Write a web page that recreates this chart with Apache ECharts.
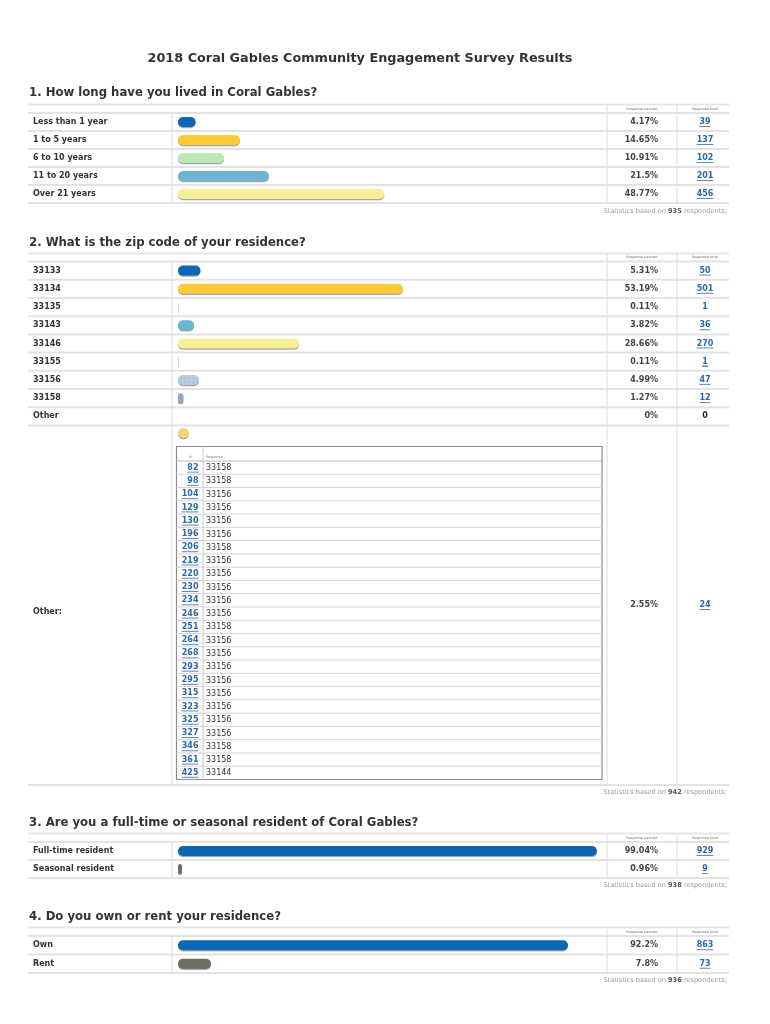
<!DOCTYPE html>
<html><head><meta charset="utf-8">
<script src="https://cdn.jsdelivr.net/npm/echarts@6/dist/echarts.min.js"></script>
<style>html,body{margin:0;padding:0;background:#fff}#c{width:770px;height:1024px}</style>
</head><body><div id="c"></div>
<script>
const FONT = 'DejaVu Sans';

// ---------- data ----------
const pageTitle = '2018 Coral Gables Community Engagement Survey Results';
const colHeaders = ['Response percent', 'Response total'];

const q1Title = '1. How long have you lived in Coral Gables?';
const q1Labels = ['Less than 1 year', '1 to 5 years', '6 to 10 years', '11 to 20 years', 'Over 21 years'];
const q1Percent = [4.17, 14.65, 10.91, 21.5, 48.77];
const q1Total = [39, 137, 102, 201, 456];
const q1Respondents = 935;

const q2Title = '2. What is the zip code of your residence?';
const q2Labels = ['33133', '33134', '33135', '33143', '33146', '33155', '33156', '33158', 'Other'];
const q2Percent = [5.31, 53.19, 0.11, 3.82, 28.66, 0.11, 4.99, 1.27, 0];
const q2Total = [50, 501, 1, 36, 270, 1, 47, 12, 0];
const q2OtherLabel = 'Other:';
const q2OtherPercent = 2.55;
const q2OtherTotal = 24;
const q2OtherIds = [82, 98, 104, 129, 130, 196, 206, 219, 220, 230, 234, 246, 251, 264, 268, 293, 295, 315, 323, 325, 327, 346, 361, 425];
const q2OtherResponses = ['33158', '33158', '33156', '33156', '33156', '33156', '33158', '33156', '33156', '33156', '33156', '33156', '33158', '33156', '33156', '33156', '33156', '33156', '33156', '33156', '33156', '33158', '33158', '33144'];
const q2Respondents = 942;

const q3Title = '3. Are you a full-time or seasonal resident of Coral Gables?';
const q3Labels = ['Full-time resident', 'Seasonal resident'];
const q3Percent = [99.04, 0.96];
const q3Total = [929, 9];
const q3Respondents = 938;

const q4Title = '4. Do you own or rent your residence?';
const q4Labels = ['Own', 'Rent'];
const q4Percent = [92.2, 7.8];
const q4Total = [863, 73];
const q4Respondents = 936;

// ---------- styles / layout ----------
const BLUE = '#0b66b3', YEL = '#ffca38', LGRN = '#bbe9b5', TEAL = '#6cb5d0', PYEL = '#f7f09a';
const LINK = '#2f68a6';
const sections = [
  {title: q1Title, headY: 93, lineY: 104.5, hdrB: 113, rowH: 18, labels: q1Labels, pct: q1Percent, tot: q1Total, resp: q1Respondents, statsY: 211,
   colors: [BLUE, YEL, LGRN, TEAL, PYEL]},
  {title: q2Title, headY: 243, lineY: 253.5, hdrB: 261.5, rowH: 18.22, labels: q2Labels, pct: q2Percent, tot: q2Total, resp: q2Respondents, statsY: 792,
   colors: [BLUE, YEL, '#c9dcc9', TEAL, PYEL, '#e2cf88', '#b9cde0', '#8fa8c9', '#cccccc'], extraBottom: 785},
  {title: q3Title, headY: 823, lineY: 833.5, hdrB: 842, rowH: 18, labels: q3Labels, pct: q3Percent, tot: q3Total, resp: q3Respondents, statsY: 885,
   colors: [BLUE, '#6f6f66']},
  {title: q4Title, headY: 917, lineY: 927.5, hdrB: 936, rowH: 18.5, labels: q4Labels, pct: q4Percent, tot: q4Total, resp: q4Respondents, statsY: 980,
   colors: [BLUE, '#6d6d62']}
];
const GL = 178, GW = 423, TL = 28, TR = 729, SEP1 = 172, SEP2 = 607, SEP3 = 677;
const barStyle = {borderRadius: 5, shadowColor: 'rgba(0,0,0,0.35)', shadowOffsetY: 1.2, shadowBlur: 0.5};

const chart = echarts.init(document.getElementById('c'));
const grids = [], xAxes = [], yAxes = [], series = [];
const lbl = {interval: 0, fontFamily: FONT, fontSize: 8, fontWeight: 'bold', color: '#333'};
sections.forEach((s, i) => {
  grids.push({left: GL, top: s.hdrB, width: GW, height: s.labels.length * s.rowH});
  xAxes.push({type: 'value', gridIndex: i, min: 0, max: 100, show: false});
  const base = {type: 'category', gridIndex: i, inverse: true, axisLine: {show: false}, axisTick: {show: false}, splitLine: {show: false}};
  yAxes.push(Object.assign({}, base, {data: s.labels, axisLabel: Object.assign({}, lbl, {align: 'left', margin: GL - 33})}));
  yAxes.push(Object.assign({}, base, {position: 'right', data: s.pct.map(v => v + '%'), axisLabel: Object.assign({}, lbl, {align: 'right', margin: 658 - (GL + GW), color: '#444'})}));
  yAxes.push(Object.assign({}, base, {position: 'right', data: s.tot.map(String), axisLabel: Object.assign({}, lbl, {align: 'center', margin: 705 - (GL + GW),
    formatter: v => v === '0' ? '{z|0}' : '{a|' + v + '}',
    rich: {a: {color: LINK, fontFamily: FONT, fontSize: 8, fontWeight: 'bold'}, z: {color: '#222', fontFamily: FONT, fontSize: 8, fontWeight: 'bold'}}})}));
  series.push({type: 'bar', xAxisIndex: i, yAxisIndex: i * 3, barWidth: 10, silent: true, itemStyle: barStyle,
    data: s.pct.map((v, j) => {
      const it = {value: v, itemStyle: {color: s.colors[j]}};
      if (i === 1 && j === 6) it.itemStyle.decal = {symbol: 'circle', symbolSize: 0.35, color: 'rgba(150,215,150,0.9)', dashArrayX: [2, 1.5], dashArrayY: [2, 1.5]};
      return it;
    })});
});
// "Other:" dot row of question 2
grids.push({left: GL, top: 428, width: GW, height: 10});
xAxes.push({type: 'value', gridIndex: 4, min: 0, max: 100, show: false});
yAxes.push({type: 'category', gridIndex: 4, data: [q2OtherLabel], show: false});
series.push({type: 'bar', xAxisIndex: 4, yAxisIndex: yAxes.length - 1, barWidth: 10, silent: true,
  itemStyle: Object.assign({}, barStyle, {color: '#f6d57c', decal: {symbol: 'circle', symbolSize: 0.35, color: 'rgba(255,240,190,0.9)', dashArrayX: [2, 1.5], dashArrayY: [2, 1.5]}}),
  data: [q2OtherPercent]});

chart.setOption({animation: false, backgroundColor: '#fff', grid: grids, xAxis: xAxes, yAxis: yAxes, series: series});

// ---------- graphics ----------
const ctx = document.createElement('canvas').getContext('2d');
function tw(t, font) { ctx.font = font; return ctx.measureText(t).width; }
const G = [];
function line(x1, y1, x2, y2, c, w) { G.push({type: 'line', silent: true, shape: {x1, y1, x2, y2}, style: {stroke: c, lineWidth: w || 1}}); }
function text(x, y, t, st) { G.push({type: 'text', silent: true, x, y, style: Object.assign({text: t, fontFamily: FONT, fill: '#333', verticalAlign: 'middle'}, st)}); }
function underline(cx, cy, t, size, align) {
  const w = tw(t, 'bold ' + size + 'px ' + FONT);
  let x0 = align === 'right' ? cx - w : (align === 'left' ? cx : cx - w / 2);
  line(x0, cy + size * 0.56, x0 + w, cy + size * 0.56, LINK, 0.8);
}

text(360, 59, pageTitle, {fontSize: 12.8, fontWeight: 'bold', align: 'center', fill: '#333'});
const ROWLINE = '#e3e3e3';
sections.forEach((s, i) => {
  text(29, s.headY, s.title, {fontSize: 11.7, fontWeight: 'bold', fill: '#333'});
  const bottom = s.extraBottom || (s.hdrB + s.labels.length * s.rowH);
  line(TL, s.lineY, TR, s.lineY, '#e6e6e6', 2);
  const hy = (s.lineY + s.hdrB) / 2;
  text((SEP2 + SEP3) / 2, hy, colHeaders[0], {fontSize: 3.5, align: 'center', fill: '#777'});
  text(705, hy, colHeaders[1], {fontSize: 3.5, align: 'center', fill: '#777'});
  line(TL, s.hdrB, TR, s.hdrB, ROWLINE, 2);
  for (let j = 1; j <= s.labels.length; j++) {
    const y = s.hdrB + j * s.rowH;
    line(TL, y, TR, y, ROWLINE, 2);
  }
  if (s.extraBottom) line(TL, s.extraBottom, TR, s.extraBottom, ROWLINE, 2);
  line(SEP1, s.hdrB, SEP1, bottom, '#dcdcdc', 1);
  line(SEP2, s.lineY, SEP2, bottom, '#dcdcdc', 1);
  line(SEP3, s.lineY, SEP3, bottom, '#dcdcdc', 1);
  // underline the total links
  s.tot.forEach((v, j) => {
    if (v === 0) return;
    const y = chart.convertToPixel({yAxisIndex: i * 3 + 2}, String(v));
    underline(705, y, String(v), 8, 'center');
  });
  G.push({type: 'text', silent: true, x: 727, y: s.statsY, style: {text: '{n|Statistics based on }{b|' + s.resp + '}{n| respondents;}', align: 'right', verticalAlign: 'middle',
    rich: {n: {fontFamily: FONT, fontSize: 6.6, fill: '#999', color: '#999'}, b: {fontFamily: FONT, fontSize: 6.6, fontWeight: 'bold', color: '#555', fill: '#555'}}}});
});

// question 2 "Other:" row
const otherMidY = 605;
text(33, 612, q2OtherLabel, {fontSize: 8, fontWeight: 'bold'});
text(658, otherMidY, q2OtherPercent + '%', {fontSize: 8, fontWeight: 'bold', align: 'right', fill: '#444'});
text(705, otherMidY, String(q2OtherTotal), {fontSize: 8, fontWeight: 'bold', align: 'center', fill: LINK});
underline(705, otherMidY, String(q2OtherTotal), 8, 'center');

// table of "Other" responses
const TX0 = 176.5, TX1 = 602, TY0 = 446.5, THB = 461, TRH = 13.27, TCOL = 203;
const TY1 = THB + q2OtherIds.length * TRH;
G.push({type: 'rect', silent: true, shape: {x: TX0, y: TY0, width: TX1 - TX0, height: TY1 - TY0}, style: {fill: 'none', stroke: '#8c8c8c', lineWidth: 1.2}});
line(TX0, THB, TX1, THB, '#bbb', 1);
line(TCOL, TY0, TCOL, TY1, '#c8c8c8', 1);
text(190.5, 457, '#', {fontSize: 3.5, align: 'center', fill: '#777'});
text(206, 457, 'Response', {fontSize: 3.5, fill: '#777'});
q2OtherIds.forEach((id, k) => {
  const cy = THB + (k + 0.5) * TRH;
  if (k > 0) line(TX0, THB + k * TRH, TX1, THB + k * TRH, '#d4d4d4', 1);
  text(198.5, cy, String(id), {fontSize: 8, fontWeight: 'bold', align: 'right', fill: LINK});
  underline(198.5, cy, String(id), 8, 'right');
  text(206, cy + 0.5, q2OtherResponses[k], {fontSize: 8, fill: '#333'});
});

chart.setOption({graphic: G});
</script></body></html>
